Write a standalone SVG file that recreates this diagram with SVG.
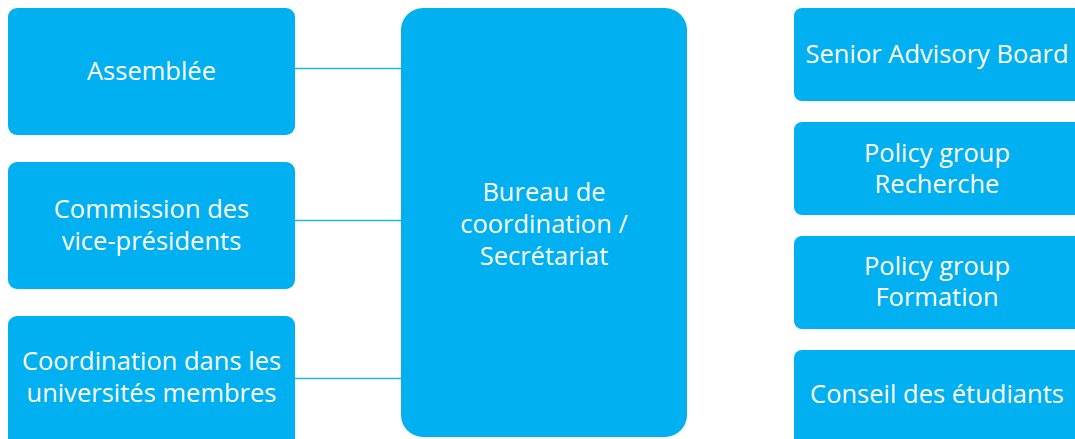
<svg xmlns="http://www.w3.org/2000/svg" width="1075" height="439" viewBox="0 0 1075 439">
<style>
.box{fill:#00B0F0;}
.lbl{font-family:"Open Sans","Liberation Sans",sans-serif;font-size:25.5px;fill:#FFFFFF;text-anchor:middle;}
.conn{stroke:#1EB6F0;stroke-width:1.6;fill:none;}
</style>
<rect width="1075" height="439" fill="#FFFFFF"/>
<g id="connectors">
<line class="conn" x1="295" y1="68.5" x2="401" y2="68.5"/>
<line class="conn" x1="295" y1="220.5" x2="401" y2="220.5"/>
<line class="conn" x1="295" y1="378.5" x2="401" y2="378.5"/>
</g>
<g id="assemblee">
<rect class="box" x="8" y="8" width="287" height="127" rx="9"/>
<text class="lbl" x="151.5" y="80">Assemblée</text>
</g>
<g id="commission">
<rect class="box" x="8" y="162" width="287" height="127" rx="9"/>
<text class="lbl" x="151.5" y="218">Commission des</text>
<text class="lbl" x="151.5" y="250">vice-présidents</text>
</g>
<g id="coordination">
<rect class="box" x="8" y="316" width="287" height="135" rx="9"/>
<text class="lbl" x="151.5" y="370">Coordination dans les</text>
<text class="lbl" x="151.5" y="402">universités membres</text>
</g>
<g id="bureau">
<rect class="box" x="401" y="8" width="286" height="429" rx="22"/>
<text class="lbl" x="544" y="201">Bureau de</text>
<text class="lbl" x="544" y="233">coordination /</text>
<text class="lbl" x="544" y="265">Secrétariat</text>
</g>
<g id="senior">
<rect class="box" x="794" y="8" width="295" height="93" rx="8"/>
<text class="lbl" x="937" y="63">Senior Advisory Board</text>
</g>
<g id="policy-recherche">
<rect class="box" x="794" y="122" width="295" height="93" rx="8"/>
<text class="lbl" x="937" y="162">Policy group</text>
<text class="lbl" x="937" y="193">Recherche</text>
</g>
<g id="policy-formation">
<rect class="box" x="794" y="236" width="295" height="93" rx="8"/>
<text class="lbl" x="937" y="275">Policy group</text>
<text class="lbl" x="937" y="306">Formation</text>
</g>
<g id="conseil">
<rect class="box" x="794" y="350" width="295" height="100" rx="8"/>
<text class="lbl" x="937" y="403">Conseil des étudiants</text>
</g>
</svg>
